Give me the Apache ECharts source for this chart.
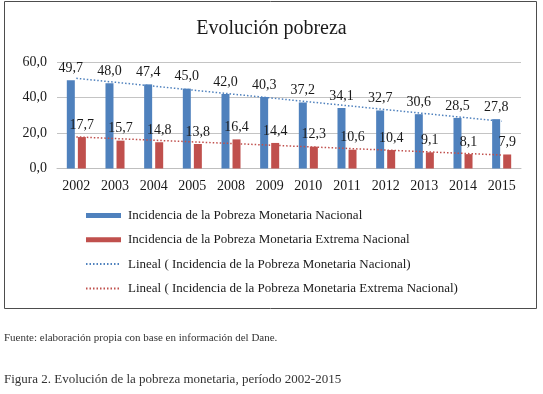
<!DOCTYPE html>
<html>
<head>
<meta charset="utf-8">
<script src="https://cdn.jsdelivr.net/npm/echarts@6/dist/echarts.min.js"></script>
<style>
  html, body { margin: 0; padding: 0; background: #fff; }
  #chart { width: 543px; height: 394px; }
</style>
</head>
<body>
<div id="chart"></div>
<script>
// ---- data ----
const years = ['2002','2003','2004','2005','2008','2009','2010','2011','2012','2013','2014','2015'];
const pobreza = [49.7, 48.0, 47.4, 45.0, 42.0, 40.3, 37.2, 34.1, 32.7, 30.6, 28.5, 27.8];
const pobrezaExtrema = [17.7, 15.7, 14.8, 13.8, 16.4, 14.4, 12.3, 10.6, 10.4, 9.1, 8.1, 7.9];
// trend line end points (first and last category)
const trendPobreza = [50.8, 26.6];
const trendExtrema = [17.8, 7.6];
const yTicks = [0, 20, 40, 60];

const seriesNames = [
  'Incidencia de la Pobreza Monetaria Nacional',
  'Incidencia de la Pobreza Monetaria Extrema Nacional',
  'Lineal ( Incidencia de la Pobreza Monetaria Nacional)',
  'Lineal ( Incidencia de la Pobreza Monetaria Extrema Nacional)'
];

const BLUE = '#4F81BD';
const RED = '#C0504D';
const FONT = '"Liberation Serif", "DejaVu Serif", serif';
const fmt = v => Number(v).toFixed(1).replace('.', ',');

const chart = echarts.init(document.getElementById('chart'), null, { renderer: 'canvas' });

const labelStyle = {
  show: true,
  position: 'top',
  distance: 5,
  fontFamily: FONT,
  fontSize: 14,
  color: '#1a1a1a',
  formatter: p => fmt(p.value)
};

chart.setOption({
  animation: false,
  backgroundColor: '#ffffff',
  textStyle: { fontFamily: FONT },
  title: {
    text: 'Evolución pobreza',
    left: 'center',
    top: 14,
    textStyle: { fontFamily: FONT, fontSize: 20, fontWeight: 'normal', color: '#1a1a1a' }
  },
  grid: { left: 57, right: 22, top: 62, bottom: 225.5, containLabel: false },
  legend: {
    orient: 'vertical',
    left: 85,
    top: 209,
    padding: 0,
    itemWidth: 35,
    itemHeight: 5,
    itemGap: 11.3,
    textStyle: { fontFamily: FONT, fontSize: 13, color: '#1a1a1a', padding: [0, 0, 0, 2] },
    data: [
      { name: seriesNames[0], icon: 'rect' },
      { name: seriesNames[1], icon: 'rect' },
      { name: seriesNames[2], itemStyle: { opacity: 0 } },
      { name: seriesNames[3], itemStyle: { opacity: 0 } }
    ]
  },
  xAxis: {
    type: 'category',
    data: years,
    axisTick: { show: false },
    axisLine: { show: true, lineStyle: { color: '#bfbfbf', width: 1 } },
    axisLabel: { fontFamily: FONT, fontSize: 14, color: '#1a1a1a', margin: 11 }
  },
  yAxis: {
    type: 'value',
    min: yTicks[0],
    max: yTicks[yTicks.length - 1],
    interval: yTicks[1] - yTicks[0],
    axisLine: { show: false },
    axisTick: { show: false },
    splitLine: { lineStyle: { color: '#c4c4c4', width: 1 } },
    axisLabel: { fontFamily: FONT, fontSize: 14, color: '#1a1a1a', margin: 10, formatter: v => fmt(v) }
  },
  series: [
    {
      name: seriesNames[0],
      type: 'bar',
      data: pobreza,
      barWidth: 8,
      barGap: '38%',
      itemStyle: { color: BLUE },
      label: labelStyle
    },
    {
      name: seriesNames[1],
      type: 'bar',
      data: pobrezaExtrema,
      barWidth: 8,
      barGap: '38%',
      itemStyle: { color: RED },
      label: labelStyle
    },
    {
      name: seriesNames[2],
      type: 'line',
      symbol: 'none',
      z: 5,
      data: [[years[0], trendPobreza[0]], [years[years.length - 1], trendPobreza[1]]],
      lineStyle: { color: BLUE, width: 1.5, type: [1.5, 2] },
      itemStyle: { color: BLUE }
    },
    {
      name: seriesNames[3],
      type: 'line',
      symbol: 'none',
      z: 5,
      data: [[years[0], trendExtrema[0]], [years[years.length - 1], trendExtrema[1]]],
      lineStyle: { color: RED, width: 1.5, type: [1.5, 2] },
      itemStyle: { color: RED }
    }
  ],
  graphic: [
    {
      type: 'rect',
      shape: { x: 4.5, y: 1.5, width: 532, height: 307 },
      style: { fill: null, stroke: '#4d4d4d', lineWidth: 1 },
      silent: true,
      z: -1
    },
    {
      type: 'text',
      left: 4,
      top: 333,
      style: { text: 'Fuente: elaboración propia con base en información del Dane.', font: '11px ' + FONT, fill: '#333' }
    },
    {
      type: 'text',
      left: 4,
      top: 373,
      style: { text: 'Figura 2. Evolución de la pobreza monetaria, período 2002-2015', font: '13px ' + FONT, fill: '#333' }
    }
  ]
});
</script>
</body>
</html>
